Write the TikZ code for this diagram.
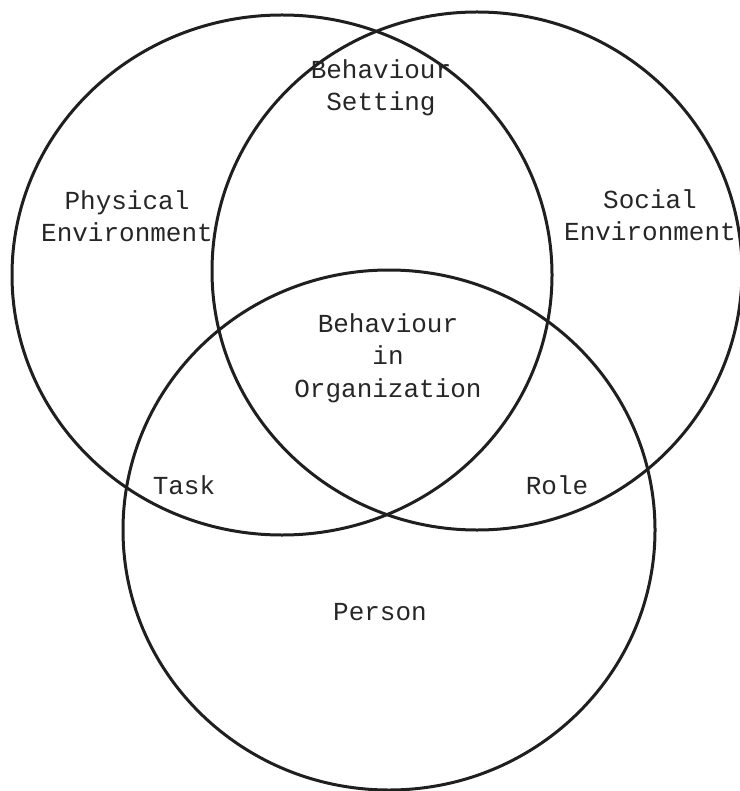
\documentclass[tikz,border=0pt]{standalone}
\usepackage{fontspec}
\setmonofont{Liberation Mono}
\usetikzlibrary{shapes.geometric}
\begin{document}
\begin{tikzpicture}[x=1pt,y=-1pt,
  circ/.style={draw=black!88, line width=3pt, ellipse, inner sep=0pt},
  lbl/.style={font=\ttfamily\fontsize{26}{32.5}\selectfont, text=black!85, align=center, inner sep=0pt}]
\useasboundingbox (0,0) rectangle (739,791);
\node[circ, minimum width=540pt, minimum height=520pt] (phys) at (282,275) {};
\node[circ, minimum width=530pt, minimum height=518pt] (soc) at (477,271) {};
\node[circ, minimum width=532pt, minimum height=520pt] (pers) at (389,530) {};
\node[lbl] (physl) at (127,216) {Physical\\Environment};
\node[lbl] (socl) at (650,215) {Social\\Environment};
\node[lbl] (setl) at (381,88) {Behaviour\\Setting};
\node[lbl] (orgl) at (388,358) {Behaviour\\in\\Organization};
\node[lbl] (taskl) at (184,485) {Task};
\node[lbl] (rolel) at (557,485) {Role};
\node[lbl] (persl) at (380,612) {Person};
\end{tikzpicture}
\end{document}
